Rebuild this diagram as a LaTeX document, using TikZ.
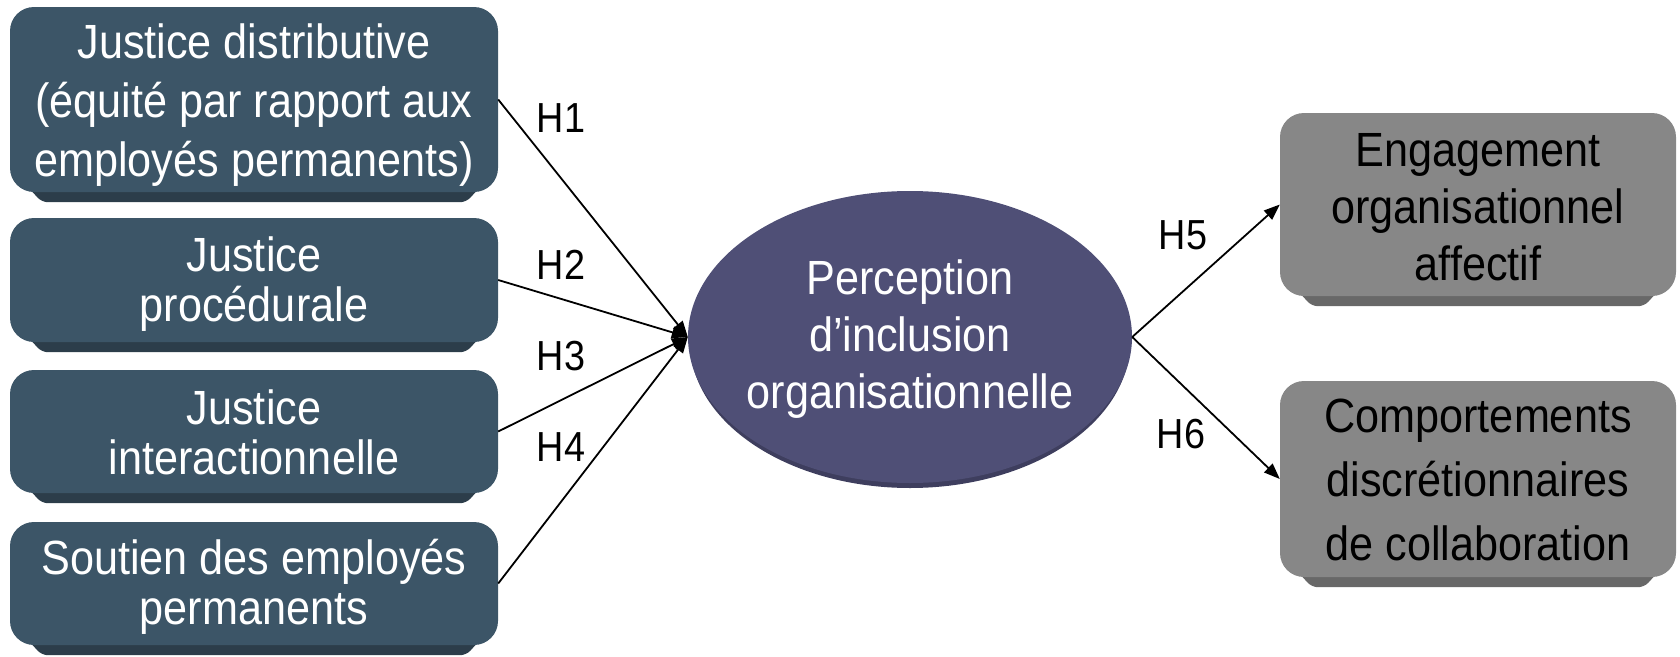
\documentclass[tikz,border=0pt]{standalone}
\usepackage{fontspec}
\setmainfont{Liberation Sans}[FakeStretch=0.9]
\usetikzlibrary{arrows.meta,shapes.geometric,calc,backgrounds}
\definecolor{boxc}{HTML}{3C5567}
\definecolor{boxsh}{HTML}{2C3D4A}
\definecolor{ellc}{HTML}{4F4F76}
\definecolor{ellsh}{HTML}{3E3E5E}
\definecolor{grayc}{HTML}{878787}
\definecolor{graysh}{HTML}{686868}
\newcommand\myshad[2]{\fill[#2, rounded corners=6pt] ($(#1.south west)+(1,-24)$) -- ($(#1.south west)+(32,10)$) -- ($(#1.south east)+(-32,10)$) -- ($(#1.south east)+(-1,-24)$) -- cycle;}
\begin{document}
\begin{tikzpicture}[x=1pt,y=-1pt]
\tikzset{
 lbox/.style={rounded corners=24pt, fill=boxc, minimum width=488pt, inner sep=0pt},
 rbox/.style={rounded corners=24pt, fill=grayc, minimum width=396pt, inner sep=0pt},
 ltxt/.style={text=white, align=center, inner sep=0pt, font=\fontsize{48}{50}\selectfont},
 rtxt/.style={text=black, align=center, inner sep=0pt, font=\fontsize{48}{57}\selectfont},
 hyp/.style={font=\fontsize{42}{42}\selectfont, inner sep=0pt},
 arr/.style={line width=1.8pt, -{Triangle[length=16pt,width=12pt]}},
}
\useasboundingbox (0,0) rectangle (1680,656);
\node[lbox, minimum height=185pt] (b1) at (254,99.5) {};
\node[lbox, minimum height=124pt] (b2) at (254,280) {};
\node[lbox, minimum height=123pt] (b3) at (254,431.5) {};
\node[lbox, minimum height=123pt] (b4) at (254,583.5) {};
\node[ellipse, fill=ellc, minimum width=444pt, minimum height=292pt, inner sep=0pt] (e) at (910,337) {};
\node[rbox, minimum height=183pt] (r1) at (1478,204.5) {};
\node[rbox, minimum height=196pt] (r2) at (1478,479) {};
\node[ltxt, font=\fontsize{48}{59}\selectfont] (b1t) at ($(b1)+(0,6)$) {Justice distributive\\(équité par rapport aux\\employés permanents)};
\node[ltxt] (b2t) at ($(b2)+(0,4.5)$) {Justice\\procédurale};
\node[ltxt] (b3t) at ($(b3)+(0,1)$) {Justice\\interactionnelle};
\node[ltxt] (b4t) at ($(b4)+(0,3.5)$) {Soutien des employés\\permanents};
\node[ltxt, font=\fontsize{48}{57}\selectfont] (et) at ($(e)+(0,2)$) {Perception\\d’inclusion\\organisationnelle};
\node[rtxt] (r1t) at ($(r1)+(0,3)$) {Engagement\\organisationnel\\affectif};
\node[rtxt, font=\fontsize{48}{64}\selectfont] (r2t) at ($(r2)+(0,1)$) {Comportements\\discrétionnaires\\de collaboration};
\begin{pgfonlayer}{background}
\myshad{b1}{boxsh}
\myshad{b2}{boxsh}
\myshad{b3}{boxsh}
\myshad{b4}{boxsh}
\myshad{r1}{graysh}
\myshad{r2}{graysh}
\fill[ellsh] ($(e.center)+(0,5)$) ellipse [x radius=220pt, y radius=146pt];
\end{pgfonlayer}
\node[hyp] (h1) at (561,118) {H1};
\node[hyp] (h2) at (561,265) {H2};
\node[hyp] (h3) at (561,356) {H3};
\node[hyp] (h4) at (561,447) {H4};
\node[hyp] (h5) at (1183,235) {H5};
\node[hyp] (h6) at (1181,434) {H6};
\draw[arr] (b1.east) -- (e.west);
\draw[arr] (b2.east) -- (e.west);
\draw[arr] (b3.east) -- (e.west);
\draw[arr] (b4.east) -- (e.west);
\draw[arr] (e.east) -- (r1.west);
\draw[arr] (e.east) -- (r2.west);
\end{tikzpicture}
\end{document}
